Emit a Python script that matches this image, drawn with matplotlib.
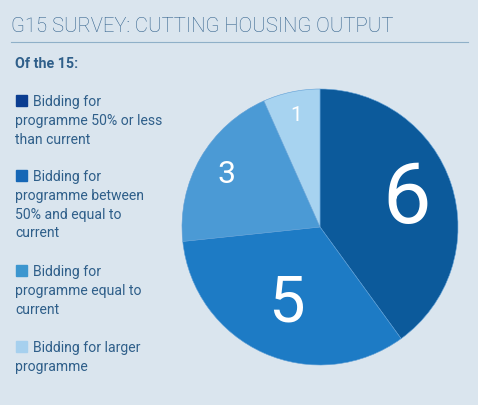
import matplotlib
matplotlib.use("Agg")
import matplotlib.pyplot as plt
import numpy as np

# data
categories = [
    "Bidding for\nprogramme 50% or less\nthan current",
    "Bidding for\nprogramme between\n50% and equal to\ncurrent",
    "Bidding for\nprogramme equal to\ncurrent",
    "Bidding for larger\nprogramme",
]
counts = [6, 5, 3, 1]
title = "G15 SURVEY: CUTTING HOUSING OUTPUT"
subtitle = "Of the 15:"

# styles
W, H = 478, 406
bg = "#dae5ee"
text_col = "#2f5f8a"
wedge_cols = ["#0c5a9b", "#1d7bc5", "#4b9ad5", "#a7d3f0"]
swatch_cols = ["#0b3d91", "#1667b6", "#3c96cf", "#a6d0ee"]
label_sizes = [62, 47, 23, 15]
label_dist = [0.66, 0.60, 0.78, 0.83]

fig = plt.figure(figsize=(W / 100, H / 100), dpi=100, facecolor=bg)


def px(x, y):
    return x / W, 1 - y / H


fig.text(*px(11, 26), title, fontsize=14.6, color=text_col, family="Roboto",
         fontweight="light", va="center", ha="left")
fig.add_artist(plt.Line2D([11 / W, 468 / W], [1 - 43 / H] * 2,
                          color="#8fb0c8", lw=0.8))
fig.text(*px(15, 64), subtitle, fontsize=10.3, color=text_col, family="Roboto",
         fontweight="bold", va="center", ha="left")

# legend
block_y = [102, 177, 272, 348]
for cat, col, y0 in zip(categories, swatch_cols, block_y):
    fig.add_artist(plt.Rectangle(px(16, y0 + 5), 11 / W, 11 / H, color=col))
    lines = cat.split("\n")
    for i, ln in enumerate(lines):
        x = 33 if i == 0 else 15
        fig.text(*px(x, y0 + i * 18.8), ln, fontsize=10.1, color=text_col,
                 family="Roboto", va="center", ha="left")

# pie
cx, cy, r = 320, 228, 138
ax = fig.add_axes([(cx - r) / W, (H - cy - r) / H, 2 * r / W, 2 * r / H])
wedges, _ = ax.pie(counts, colors=wedge_cols, startangle=90, counterclock=False,
                   wedgeprops=dict(edgecolor="#5f9fd6", linewidth=0.4))
for w, n, s, d in zip(wedges, counts, label_sizes, label_dist):
    ang = np.deg2rad((w.theta1 + w.theta2) / 2)
    ax.text(d * np.cos(ang), d * np.sin(ang), str(n), fontsize=s, color="white",
            family="Roboto", fontweight="normal", ha="center", va="center")
ax.set_xlim(-1, 1)
ax.set_ylim(-1, 1)
ax.set_aspect("equal")
ax.axis("off")

fig.savefig("out.png", dpi=100, facecolor=bg)
